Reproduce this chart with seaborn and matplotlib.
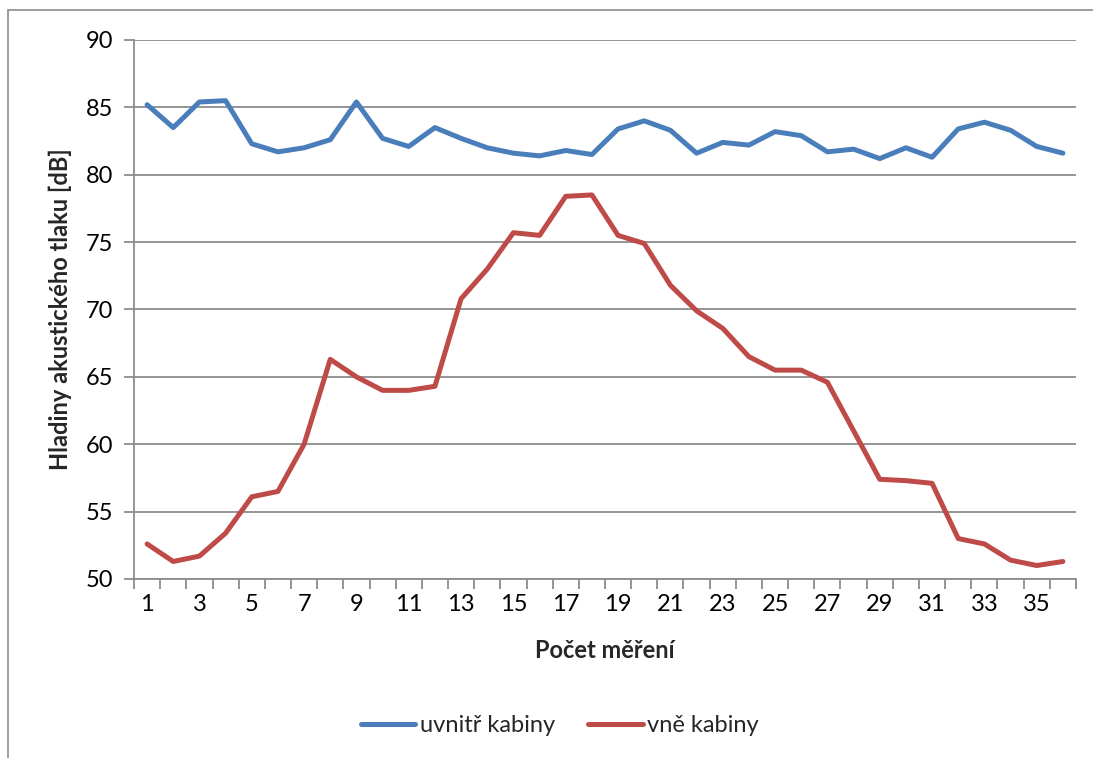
import numpy as np
import pandas as pd
import matplotlib
matplotlib.use("Agg")
import matplotlib.pyplot as plt
import seaborn as sns

# Measurement index and sound pressure levels [dB]
mereni = list(range(1, 37))
uvnitr = [85.2, 83.5, 85.4, 85.5, 82.3, 81.7, 82.0, 82.6, 85.4, 82.7,
          82.1, 83.5, 82.7, 82.0, 81.6, 81.4, 81.8, 81.5, 83.4, 84.0,
          83.3, 81.6, 82.4, 82.2, 83.2, 82.9, 81.7, 81.9, 81.2, 82.0,
          81.3, 83.4, 83.9, 83.3, 82.1, 81.6]
vne = [52.6, 51.3, 51.7, 53.4, 56.1, 56.5, 60.0, 66.3, 65.0, 64.0,
       64.0, 64.3, 70.8, 73.0, 75.7, 75.5, 78.4, 78.5, 75.5, 74.9,
       71.8, 69.9, 68.6, 66.5, 65.5, 65.5, 64.6, 61.0, 57.4, 57.3,
       57.1, 53.0, 52.6, 51.4, 51.0, 51.3]
series_names = ["uvnitř kabiny", "vně kabiny"]
y_ticks = [50, 55, 60, 65, 70, 75, 80, 85, 90]
x_labels = list(range(1, 37, 2))

df = pd.DataFrame({
    "Počet měření": mereni * 2,
    "dB": uvnitr + vne,
    "série": [series_names[0]] * len(mereni) + [series_names[1]] * len(mereni),
})

sns.set_theme(style="white")
plt.rcParams["font.family"] = ["Lato", "DejaVu Sans"]

W, H = 1093, 758
fig = plt.figure(figsize=(W / 100, H / 100), dpi=100)
ax = fig.add_axes([134 / W, 1 - 579 / H, (1076 - 134) / W, (579 - 40) / H])

palette = {series_names[0]: "#4A7EBB", series_names[1]: "#BE4B48"}
sns.lineplot(data=df, x="Počet měření", y="dB", hue="série", palette=palette,
             linewidth=3.6, ax=ax, legend=True)

grid_c = "#8C8C8C"
ax.set_xlim(0.5, 36.5)
ax.set_ylim(50, 90)
ax.set_yticks(y_ticks)
ax.yaxis.grid(True, color=grid_c, linewidth=1.3)
ax.xaxis.grid(False)
ax.set_axisbelow(True)

ax.set_xticks(x_labels)
ax.set_xticks(np.arange(0.5, 37.0, 1.0), minor=True)
ax.tick_params(axis="x", which="major", length=0, labelsize=17, pad=11, colors="black")
ax.tick_params(axis="x", which="minor", length=7, width=1.3, color=grid_c, direction="out", bottom=True)
ax.tick_params(axis="y", which="major", length=7, width=1.3, color=grid_c, direction="out",
               left=True, labelsize=17, pad=8, colors="black")

for side in ["top", "right"]:
    ax.spines[side].set_visible(False)
for side in ["left", "bottom"]:
    ax.spines[side].set_color(grid_c)
    ax.spines[side].set_linewidth(1.3)

ax.set_xlabel("Počet měření", fontsize=17, fontweight="bold", labelpad=17)
ax.set_ylabel("Hladiny akustického tlaku [dB]", fontsize=17, fontweight="bold", labelpad=10)

ax.legend_.remove()
handles, labels = ax.get_legend_handles_labels()
fig.legend(handles, labels, loc="center", bbox_to_anchor=(560 / W, 1 - 726 / H),
           ncol=2, frameon=False, fontsize=17, handlelength=2.3, handletextpad=0.2,
           columnspacing=1.4)

# chart frame
fig.add_artist(plt.Line2D([8 / W, 8 / W], [0, 1 - 10 / H], color="#8C8C8C", lw=1.2,
                          transform=fig.transFigure))
fig.add_artist(plt.Line2D([8 / W, 1], [1 - 10 / H, 1 - 10 / H], color="#8C8C8C", lw=1.2,
                          transform=fig.transFigure))

fig.savefig("out.png", dpi=100)
